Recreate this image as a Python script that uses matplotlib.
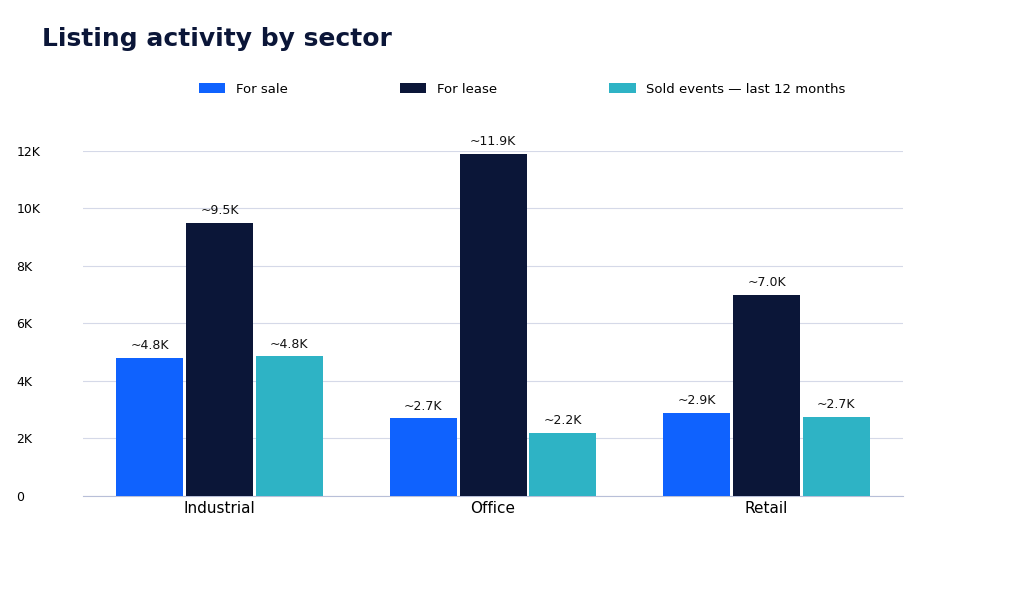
import matplotlib.pyplot as plt
import numpy as np

sectors = ["Industrial", "Office", "Retail"]
series = ["For sale", "For lease", "Sold events \u2014 last 12 months"]
for_sale = [4800, 2700, 2900]
for_lease = [9500, 11900, 7000]
sold = [4850, 2200, 2750]
labels_sale = ["~4.8K", "~2.7K", "~2.9K"]
labels_lease = ["~9.5K", "~11.9K", "~7.0K"]
labels_sold = ["~4.8K", "~2.2K", "~2.7K"]
yticks = [0, 2000, 4000, 6000, 8000, 10000, 12000]
ytick_labels = ["0", "2K", "4K", "6K", "8K", "10K", "12K"]

colors = ["#0f62fe", "#0b1638", "#2eb3c5"]

fig = plt.figure(figsize=(10.24, 5.89), dpi=100)
ax = fig.add_axes([0.081, 0.158, 0.801, 0.586])

x = np.arange(len(sectors))
w = 0.255
handles = []
for i, (vals, labs) in enumerate(zip([for_sale, for_lease, sold],
                                     [labels_sale, labels_lease, labels_sold])):
    bars = ax.bar(x + (i - 1) * w, vals, width=w - 0.01, color=colors[i], label=series[i], zorder=3)
    handles.append(bars)
    for b, lab in zip(bars, labs):
        ax.annotate(lab, (b.get_x() + b.get_width() / 2, b.get_height()),
                    textcoords="offset points", xytext=(0, 4), ha="center", va="bottom",
                    fontsize=9, color="#111111")

ax.set_xlim(-0.5, 2.5)
ax.set_ylim(0, 12000)
ax.set_yticks(yticks)
ax.set_yticklabels(ytick_labels)
ax.set_xticks(x)
ax.set_xticklabels(sectors, fontsize=11)
ax.grid(axis="y", color="#d5d9e8", linewidth=0.8, zorder=0)
for s in ["top", "right", "left"]:
    ax.spines[s].set_visible(False)
ax.spines["bottom"].set_color("#b8bfd8")
ax.tick_params(axis="both", length=0)
ax.tick_params(axis="y", pad=48, labelsize=9)
for t in ax.get_yticklabels():
    t.set_horizontalalignment("left")

fig.text(0.041, 0.933, "Listing activity by sector", fontsize=18, fontweight="bold",
         color="#0b1638", va="center")
fig.legend(handles=handles, loc="center", bbox_to_anchor=(0.51, 0.848), ncol=3, frameon=False,
           fontsize=9.5, handlelength=2.0, handleheight=0.8, columnspacing=8.5)

fig.savefig("out.png", dpi=100)
